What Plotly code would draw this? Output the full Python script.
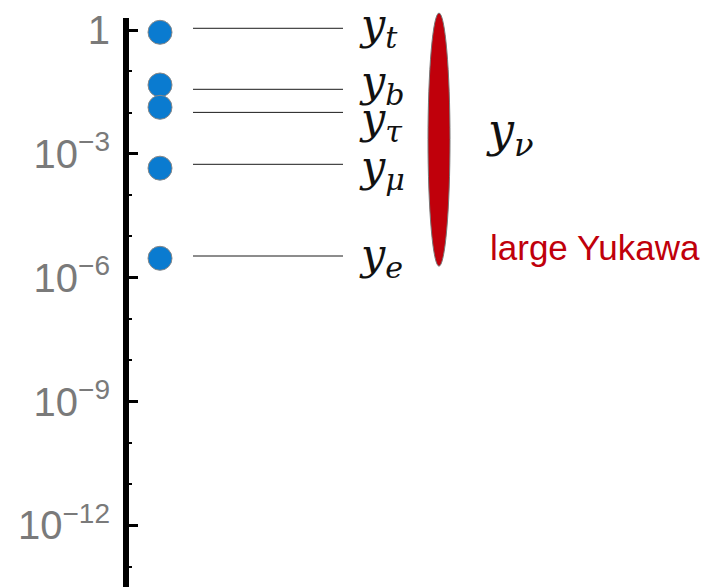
import numpy as np
import plotly.graph_objects as go

# ---- data ----
names = ["t", "b", "τ", "μ", "e"]
yukawa = [0.88, 0.0466, 0.0134, 4.5e-4, 2.95e-6]          # dot values
label_level = [1.1, 0.0366, 0.0101, 5.58e-4, 3.35e-6]     # leader line values
ynu_range = [1.9e-6, 2.57]                                 # extent of the y_nu band
tick_values = [1, 1e-3, 1e-6, 1e-9, 1e-12]
tick_labels = ["1", "10<sup>−3</sup>", "10<sup>−6</sup>", "10<sup>−9</sup>", "10<sup>−12</sup>"]
minor_values = [10.0 ** (-k) for k in range(0, 14)]
axis_span = [10 ** -13.6, 10 ** 0.29]

# ---- style / layout constants (page pixels) ----
W, H = 715, 587
OFF = 8                       # default page margin of the html body
PX_PER_DEC = 41.28
Y0_PX = 30                    # page pixel row of value 1
AXIS_X = 126
DOT_X = 160
LINE_X = [193, 343]
LABEL_X = 357
LABEL_YSHIFT = [1, 5, -9, -5, -1]
ELL_X = [428, 450]
NU_X = 484
BLUE = "#0a7bd0"
RED = "#c0000b"
SERIF = "DejaVu Serif"

lg = np.log10
def px_to_log(p):
    return -(p - Y0_PX) / PX_PER_DEC

fig = go.Figure()

# leader lines
lx, ly = [], []
for v in label_level:
    lx += [LINE_X[0], LINE_X[1], None]
    ly += [lg(v), lg(v), None]
fig.add_trace(go.Scatter(x=lx, y=ly, mode="lines",
                         line=dict(color="#1a1a1a", width=1), hoverinfo="skip"))

# dots
fig.add_trace(go.Scatter(x=[DOT_X] * len(yukawa), y=lg(yukawa), mode="markers",
                         marker=dict(size=24, color=BLUE, line=dict(color="#888", width=1)),
                         cliponaxis=False, hoverinfo="skip"))

annotations = []
for n, v, dy in zip(names, label_level, LABEL_YSHIFT):
    annotations.append(dict(x=LABEL_X, y=lg(v), xref="x", yref="y", yshift=dy,
                            text=f"<i>y</i><sub><i>{n}</i></sub>", showarrow=False,
                            xanchor="left", yanchor="middle",
                            font=dict(family=SERIF, size=43, color="#111")))
annotations.append(dict(x=NU_X, y=px_to_log(133), xref="x", yref="y",
                        text="<i>y</i><sub><i>ν</i></sub>", showarrow=False,
                        xanchor="left", yanchor="middle",
                        font=dict(family=SERIF, size=46, color="#111")))
annotations.append(dict(x=NU_X + 4, y=px_to_log(247), xref="x", yref="y",
                        text="large Yukawa", showarrow=False,
                        xanchor="left", yanchor="middle",
                        font=dict(family="Liberation Sans", size=35, color=RED)))

shapes = [
    dict(type="line", xref="x", yref="y", x0=AXIS_X, x1=AXIS_X,
         y0=lg(axis_span[0]), y1=lg(axis_span[1]), line=dict(color="black", width=6)),
    dict(type="circle", xref="x", yref="y", x0=ELL_X[0], x1=ELL_X[1],
         y0=lg(ynu_range[0]), y1=lg(ynu_range[1]), fillcolor=RED,
         line=dict(color="#777", width=1)),
]

fig.update_layout(
    width=W - OFF, height=H - OFF, margin=dict(l=0, r=0, t=0, b=0),
    paper_bgcolor="white", plot_bgcolor="white", showlegend=False,
    xaxis=dict(range=[OFF, W], visible=False, fixedrange=True),
    yaxis=dict(range=[px_to_log(H), px_to_log(OFF)], anchor="free",
               position=(AXIS_X - OFF) / (W - OFF), side="left",
               showgrid=False, zeroline=False, showline=False,
               tickmode="array", tickvals=lg(tick_values), ticktext=tick_labels,
               ticks="inside", ticklen=11, tickwidth=3, tickcolor="black",
               ticklabelstandoff=16,
               tickfont=dict(family="Liberation Sans", size=40, color="#7a7a7a"),
               minor=dict(tickmode="array", tickvals=lg(minor_values), ticks="inside",
                          ticklen=5, tickwidth=2, tickcolor="black")),
    annotations=annotations, shapes=shapes,
)

fig.write_html("out.html")
